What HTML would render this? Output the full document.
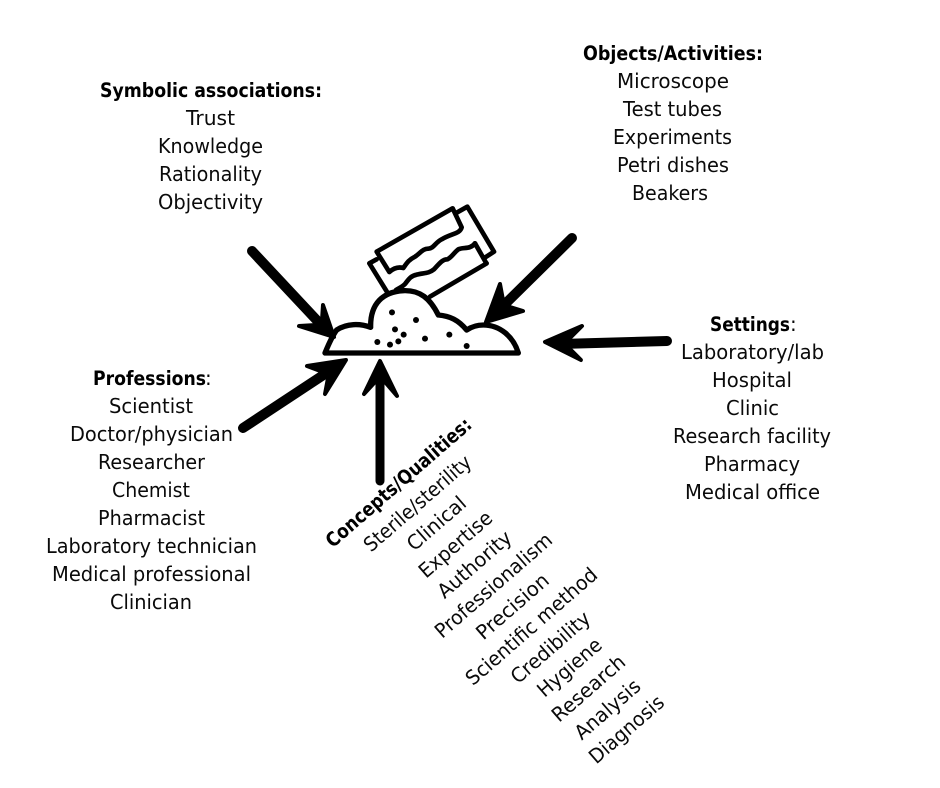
<!DOCTYPE html>
<html><head><meta charset="utf-8"><style>
html,body{margin:0;padding:0;background:#fff;width:940px;height:788px;overflow:hidden}
svg{display:block}
text{font-family:"DejaVu Sans","Liberation Sans",sans-serif;font-size:20px;fill:#0a0a0a}
.b{font-weight:bold;font-size:19.5px;fill:#000}
</style></head><body>
<svg width="940" height="788" viewBox="0 0 940 788" xmlns="http://www.w3.org/2000/svg">
<rect width="940" height="788" fill="#fff"/>
<g>
<text class="b" x="100" y="97" textLength="222" lengthAdjust="spacingAndGlyphs">Symbolic associations:</text>
<text x="186" y="125" textLength="49" lengthAdjust="spacingAndGlyphs">Trust</text>
<text x="158" y="153" textLength="105" lengthAdjust="spacingAndGlyphs">Knowledge</text>
<text x="159" y="181" textLength="103" lengthAdjust="spacingAndGlyphs">Rationality</text>
<text x="158" y="209" textLength="105" lengthAdjust="spacingAndGlyphs">Objectivity</text>

<text class="b" x="583" y="60" textLength="180" lengthAdjust="spacingAndGlyphs">Objects/Activities:</text>
<text x="617" y="88" textLength="112" lengthAdjust="spacingAndGlyphs">Microscope</text>
<text x="623" y="116" textLength="99" lengthAdjust="spacingAndGlyphs">Test tubes</text>
<text x="613" y="144" textLength="119" lengthAdjust="spacingAndGlyphs">Experiments</text>
<text x="617" y="172" textLength="112" lengthAdjust="spacingAndGlyphs">Petri dishes</text>
<text x="632" y="200" textLength="76" lengthAdjust="spacingAndGlyphs">Beakers</text>

<text class="b" x="710" y="331" textLength="80" lengthAdjust="spacingAndGlyphs">Settings</text>
<text x="790" y="331">:</text>
<text x="681" y="359" textLength="143" lengthAdjust="spacingAndGlyphs">Laboratory/lab</text>
<text x="712" y="387" textLength="80" lengthAdjust="spacingAndGlyphs">Hospital</text>
<text x="726" y="415" textLength="53" lengthAdjust="spacingAndGlyphs">Clinic</text>
<text x="673" y="443" textLength="158" lengthAdjust="spacingAndGlyphs">Research facility</text>
<text x="704" y="471" textLength="96" lengthAdjust="spacingAndGlyphs">Pharmacy</text>
<text x="685" y="499" textLength="135" lengthAdjust="spacingAndGlyphs">Medical office</text>

<text class="b" x="93" y="385" textLength="113" lengthAdjust="spacingAndGlyphs">Professions</text>
<text x="205" y="385">:</text>
<text x="109" y="413" textLength="84" lengthAdjust="spacingAndGlyphs">Scientist</text>
<text x="70" y="441" textLength="163" lengthAdjust="spacingAndGlyphs">Doctor/physician</text>
<text x="98" y="469" textLength="107" lengthAdjust="spacingAndGlyphs">Researcher</text>
<text x="112" y="497" textLength="78" lengthAdjust="spacingAndGlyphs">Chemist</text>
<text x="98" y="525" textLength="107" lengthAdjust="spacingAndGlyphs">Pharmacist</text>
<text x="46" y="553" textLength="211" lengthAdjust="spacingAndGlyphs">Laboratory technician</text>
<text x="52" y="581" textLength="199" lengthAdjust="spacingAndGlyphs">Medical professional</text>
<text x="110" y="609" textLength="82" lengthAdjust="spacingAndGlyphs">Clinician</text>
</g>

<g text-anchor="middle">
<text class="b" transform="translate(399,483) rotate(-41)" y="6" textLength="186" lengthAdjust="spacingAndGlyphs">Concepts/Qualities:</text>
<text transform="translate(418,504) rotate(-41)" y="6" textLength="135" lengthAdjust="spacingAndGlyphs">Sterile/sterility</text>
<text transform="translate(437,524) rotate(-41)" y="6" textLength="71" lengthAdjust="spacingAndGlyphs">Clinical</text>
<text transform="translate(456,545) rotate(-41)" y="6" textLength="90" lengthAdjust="spacingAndGlyphs">Expertise</text>
<text transform="translate(475,565) rotate(-41)" y="6" textLength="91" lengthAdjust="spacingAndGlyphs">Authority</text>
<text transform="translate(494,586) rotate(-41)" y="6" textLength="148" lengthAdjust="spacingAndGlyphs">Professionalism</text>
<text transform="translate(513,607) rotate(-41)" y="6" textLength="89" lengthAdjust="spacingAndGlyphs">Precision</text>
<text transform="translate(532,627) rotate(-41)" y="6" textLength="167" lengthAdjust="spacingAndGlyphs">Scientific method</text>
<text transform="translate(551,648) rotate(-41)" y="6" textLength="98" lengthAdjust="spacingAndGlyphs">Credibility</text>
<text transform="translate(570,668) rotate(-41)" y="6" textLength="78" lengthAdjust="spacingAndGlyphs">Hygiene</text>
<text transform="translate(589,689) rotate(-41)" y="6" textLength="90" lengthAdjust="spacingAndGlyphs">Research</text>
<text transform="translate(608,710) rotate(-41)" y="6" textLength="80" lengthAdjust="spacingAndGlyphs">Analysis</text>
<text transform="translate(627,730) rotate(-41)" y="6" textLength="92" lengthAdjust="spacingAndGlyphs">Diagnosis</text>
</g>

<!-- razor blade -->
<g transform="translate(360,200) scale(0.33333)" fill="none" stroke="#000" stroke-width="14" stroke-linejoin="round" stroke-linecap="round">
<path d="M50,155 L278,25 L305,82 C300,102 275,100 245,118 C225,128 222,145 205,146 C190,145 180,160 165,170 C145,180 140,190 130,204 C115,200 100,205 88,216 Z"/>
<path d="M290,38 L322,20 L402,155 L376,172"/>
<path d="M345,130 L378,188"/>
<path d="M50,178 L28,190 L85,282"/>
<path d="M380,190 L210,290"/>
<path d="M345,130 C330,150 310,140 295,148 C280,160 275,172 262,178 C245,178 235,195 222,208 C205,222 190,218 170,224 C150,228 145,240 135,252 C125,262 115,265 108,270"/>
</g>

<!-- powder pile -->
<g transform="translate(310,190) scale(0.33333)" fill="none" stroke="#000" stroke-width="16" stroke-linejoin="round" stroke-linecap="round">
<path d="M45,489 L625,489 C610,440 570,405 520,405 C500,405 485,410 470,420 C445,390 420,378 385,375 C360,325 330,300 280,302 C220,305 180,340 182,412 C150,400 110,400 80,420 C65,440 55,465 45,489 Z" fill="#fff"/>
<g fill="#000" stroke="none">
<circle cx="246" cy="367" r="9"/><circle cx="318" cy="390" r="9"/><circle cx="255" cy="418" r="9"/>
<circle cx="281" cy="434" r="9"/><circle cx="345" cy="446" r="9"/><circle cx="418" cy="434" r="9"/>
<circle cx="470" cy="468" r="9"/><circle cx="202" cy="456" r="9"/><circle cx="240" cy="464" r="9"/><circle cx="265" cy="454" r="9"/>
</g>
</g>

<!-- arrows -->
<g fill="#000" stroke="#000" stroke-linecap="round" stroke-linejoin="round">
<path d="M252,251 L325,329" stroke-width="10" fill="none"/>
<path d="M323,305 L334,337 L299,326 L316,325 L322,320 Z" stroke-width="4"/>
<path d="M572,238 L500,309" stroke-width="10" fill="none"/>
<path d="M500,284 L486,322 L523,311 L510,307 L503,300 Z" stroke-width="4"/>
<path d="M667,341 L560,344" stroke-width="10" fill="none"/>
<path d="M582,326 L545,342 L581,360 L568,347 L568,340 Z" stroke-width="4"/>
<path d="M243,428 L334,368" stroke-width="10" fill="none"/>
<path d="M307,366 L346,360 L325,394 L328,378 L323,372 Z" stroke-width="4"/>
<path d="M380,481 L380,372" stroke-width="9" fill="none"/>
<path d="M364,394 L380,361 L397,396 L385,382 L375,382 Z" stroke-width="4"/>
</g>
</svg>
</body></html>
